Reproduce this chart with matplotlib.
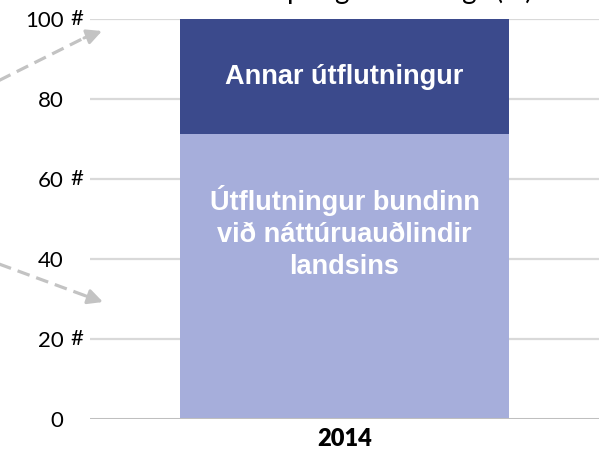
import matplotlib.pyplot as plt
from matplotlib import transforms
from matplotlib.lines import Line2D

# gögn
years = ["2014"]
natural_resources = [71.25]   # Útflutningur bundinn við náttúruauðlindir landsins
other_exports = [28.75]       # Annar útflutningur
tick_values = [0, 20, 40, 60, 80, 100]
hash_ticks = [20, 60, 100]
title = "Skipting útflutnings (%)"

dark = "#3B4A8C"
light = "#A6AEDB"
grid_col = "#D9D9D9"
arrow_col = "#C3C3C3"

fig = plt.figure(figsize=(6.05, 4.67), dpi=100)
ax = fig.add_axes([90 / 605, 1 - 419 / 467, 509 / 605, 400 / 467])

x = list(range(len(years)))
ax.bar(x, natural_resources, width=0.646, color=light, zorder=2)
ax.bar(x, other_exports, width=0.646, bottom=natural_resources, color=dark, zorder=2)

ax.set_xlim(-0.5, 0.5)
ax.set_ylim(0, 100)
for v in tick_values[1:]:
    ax.axhline(v, color=grid_col, lw=1.6, zorder=1)
ax.axhline(0, color="#BFBFBF", lw=2.2, zorder=3)

for s in ax.spines.values():
    s.set_visible(False)
ax.set_yticks(tick_values)
ax.set_yticklabels([str(v) for v in tick_values], fontsize=16, family="Lato")
ax.tick_params(axis="y", length=0, pad=19)
ax.set_xticks(x)
ax.set_xticklabels(years, fontsize=17, family="Lato", fontweight="heavy")
ax.tick_params(axis="x", length=0, pad=6.5)

# '#' merki við suma ása
trans = transforms.blended_transform_factory(fig.transFigure, ax.transData)
for v in hash_ticks:
    ax.text(83 / 605, v, "#", transform=trans, ha="right", va="center",
            fontsize=16, family="Lato")

# textar inni í súlunum
for i in x:
    ax.text(i, natural_resources[i] + other_exports[i] / 2,
            "Annar útflutningur", ha="center", va="center", color="white",
            fontsize=19.5, fontweight="bold", family="Liberation Sans", zorder=4)
    ax.text(i, natural_resources[i] * 0.655,
            "Útflutningur bundinn\nvið náttúruauðlindir\nlandsins",
            ha="center", va="center", color="white", fontsize=19.5,
            fontweight="bold", family="Liberation Sans", linespacing=1.3, zorder=4)

# titill, skorinn af að ofan eins og í fyrirmyndinni
fig.text(392 / 605, 1 + 1 / 467, title, ha="center", va="baseline",
         fontsize=20, family="Lato")

# brotnar örvar frá vinstri
arrows = [((-20, 90), (84, 38), (102, 31)),
          ((-20, 257), (86, 296), (103, 302))]
for start, mid, tip in arrows:
    fx = lambda p: (p[0] / 605, 1 - p[1] / 467)
    a, b, c = fx(start), fx(mid), fx(tip)
    fig.add_artist(Line2D([a[0], b[0]], [a[1], b[1]], transform=fig.transFigure,
                          color=arrow_col, lw=2.3, dashes=(4, 2.2)))
    ax.annotate("", xy=c, xytext=b, xycoords="figure fraction",
                textcoords="figure fraction", annotation_clip=False,
                arrowprops=dict(arrowstyle="-|>,head_length=0.9,head_width=0.45",
                                color=arrow_col, lw=2.2, shrinkA=0, shrinkB=0))

fig.savefig("out.png", dpi=100)
